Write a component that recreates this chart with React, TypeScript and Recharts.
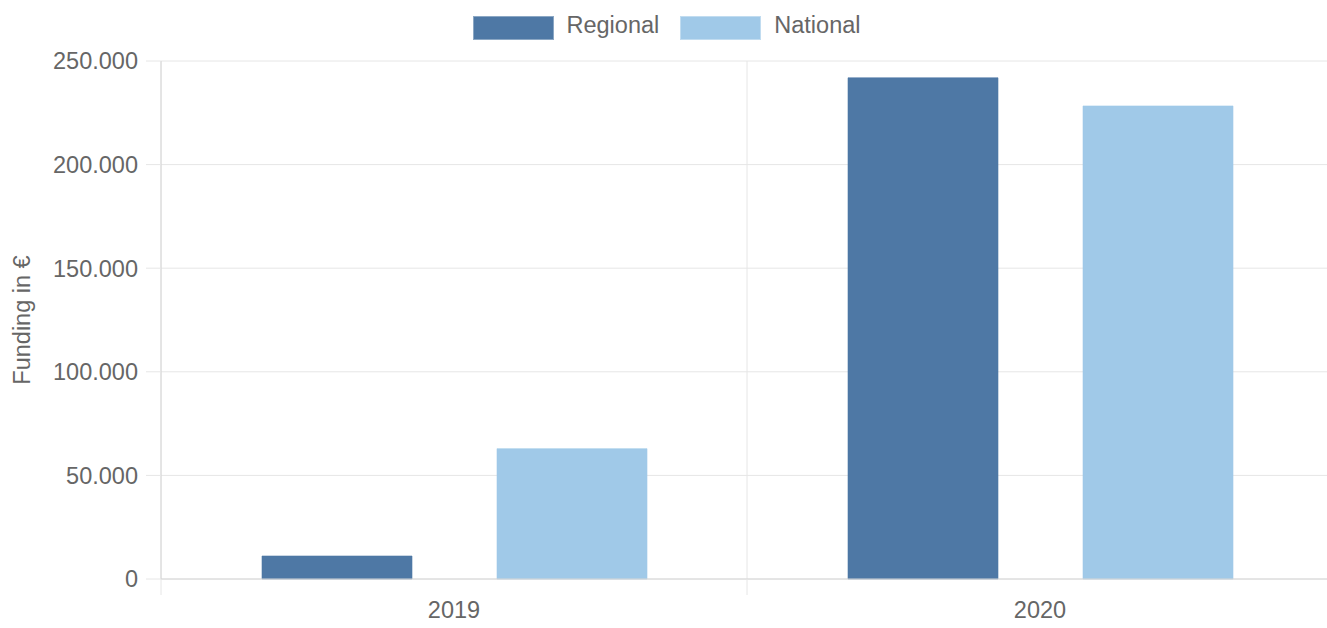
import { BarChart, Bar, XAxis, YAxis, CartesianGrid, Legend } from 'recharts'

const years = ['2019', '2020']
const regional = [11100, 241900]
const national = [62900, 228300]
const yTicks = [0, 50000, 100000, 150000, 200000, 250000]
const seriesNames = ['Regional', 'National']
const seriesColors = ['#4e78a5', '#a0c9e8']

const data = years.map((y, i) => ({ year: y, Regional: regional[i], National: national[i] }))

const W = 1333
const H = 628
const M = { top: 13, right: 0, bottom: 0, left: 0 }
const Y_W = 161
const X_H = 49
const FONT = '"Liberation Sans", Arial, Helvetica, sans-serif'
const GRID = '#e6e6e6'
const TXT = '#666'

const band = (W - Y_W - M.right) / years.length

const fmt = (v: number) => String(v).replace(/\B(?=(\d{3})+(?!\d))/g, '.')

function XTick(props: any) {
  const { x, y, payload, index } = props
  const last = index === years.length - 1
  return (
    <g>
      <line x1={x - band / 2} x2={x - band / 2} y1={y} y2={y + 16} stroke={GRID} />
      {last && <line x1={x + band / 2} x2={x + band / 2} y1={y} y2={y + 16} stroke={GRID} />}
      <text x={x} y={y + 31} textAnchor="middle" dominantBaseline="central" fill={TXT} fontSize={23.5} fontFamily={FONT}>
        {payload.value}
      </text>
    </g>
  )
}

function LegendBox() {
  return (
    <div style={{ height: 48, display: 'flex', justifyContent: 'center', alignItems: 'flex-start', paddingTop: 16, boxSizing: 'border-box', fontFamily: FONT, fontSize: 23.5, color: TXT }}>
      {seriesNames.map((n, i) => (
        <div key={n} style={{ display: 'flex', alignItems: 'center', marginRight: i === 0 ? 21 : 0, height: 24 }}>
          <span style={{ display: 'inline-block', width: 81, height: 24, background: seriesColors[i], marginRight: 13, boxSizing: 'border-box', border: '1px solid rgba(255,255,255,0.35)' }} />
          <span style={{ lineHeight: '24px', position: 'relative', top: -3 }}>{n}</span>
        </div>
      ))}
    </div>
  )
}

export default function App() {
  return (
    <div style={{ position: 'absolute', left: 0, top: 0, width: 1327, height: H, overflow: 'hidden', background: '#fff' }}>
      <BarChart width={W} height={H} data={data} margin={M} barSize={150} barGap={85}>
        <Legend verticalAlign="top" align="center" content={() => <LegendBox />} wrapperStyle={{ width: W, left: 0, top: 0, height: 48 }} />
        <CartesianGrid
          stroke={GRID}
          verticalCoordinatesGenerator={({ offset }: any) => [offset.left, offset.left + offset.width / 2, offset.left + offset.width]}
        />
        <XAxis dataKey="year" height={X_H} tickSize={0} tickMargin={0} axisLine={{ stroke: '#d6d6d6' }} tickLine={false} tick={<XTick />} interval={0} />
        <YAxis
          width={Y_W}
          domain={[0, 250000]}
          ticks={yTicks}
          tickFormatter={fmt}
          tickSize={15}
          tickMargin={8}
          tickLine={{ stroke: GRID }}
          axisLine={{ stroke: '#d6d6d6' }}
          tick={{ fill: TXT, fontSize: 23.5, fontFamily: FONT }}
          label={{ value: 'Funding in €', angle: -90, position: 'insideLeft', offset: 22, style: { fill: TXT, fontSize: 23.5, fontFamily: FONT, textAnchor: 'middle' } }}
        />
        {seriesNames.map((n, i) => (
          <Bar key={n} dataKey={n} fill={seriesColors[i]} stroke={seriesColors[i]} strokeOpacity={0.6} isAnimationActive={false} />
        ))}
      </BarChart>
    </div>
  )
}
